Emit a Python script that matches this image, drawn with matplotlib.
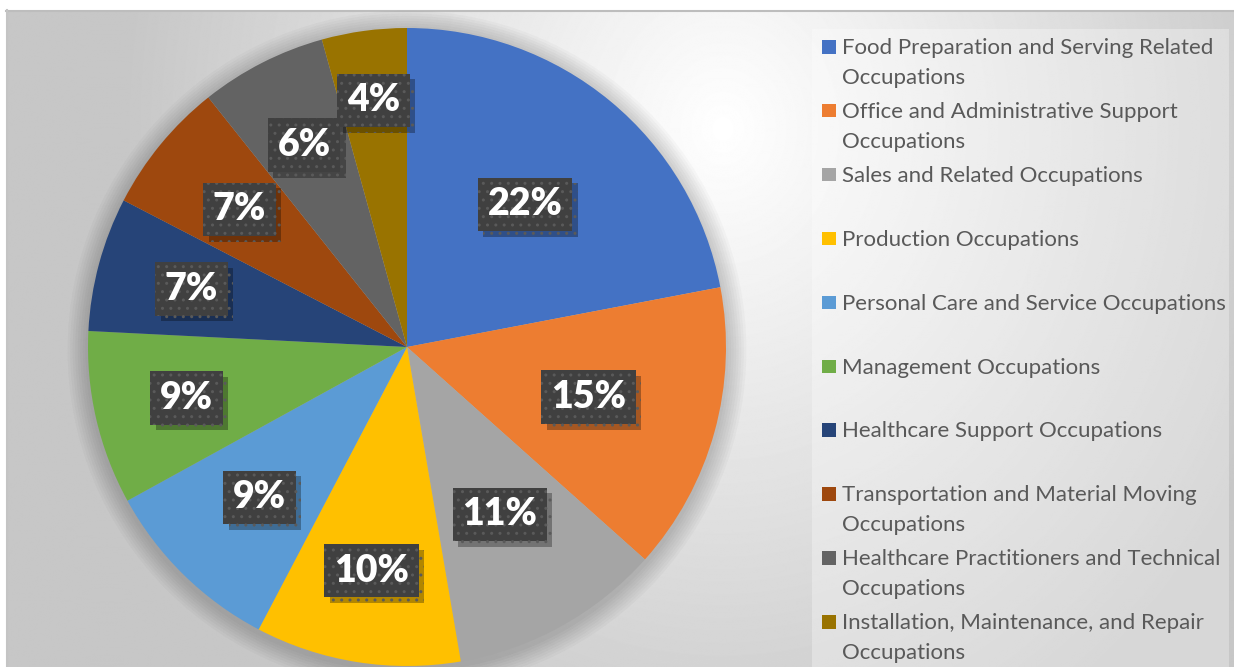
import textwrap
import numpy as np
import matplotlib
matplotlib.use("Agg")
import matplotlib.pyplot as plt
import matplotlib.patheffects as pe
from matplotlib.patches import Rectangle, Circle

# occupation shares (percent)
occupations = [
    "Food Preparation and Serving Related Occupations",
    "Office and Administrative Support Occupations",
    "Sales and Related Occupations",
    "Production Occupations",
    "Personal Care and Service Occupations",
    "Management Occupations",
    "Healthcare Support Occupations",
    "Transportation and Material Moving Occupations",
    "Healthcare Practitioners and Technical Occupations",
    "Installation, Maintenance, and Repair Occupations",
]
shares = [22.0, 14.6, 10.7, 10.4, 9.3, 8.8, 6.8, 6.7, 6.4, 4.3]
colors = ["#4472C4", "#ED7D31", "#A5A5A5", "#FFC000", "#5B9BD5",
          "#70AD47", "#264478", "#9E480E", "#636363", "#997300"]
# radial position of each percent label (fraction of radius)
label_r = [0.58, 0.59, 0.60, 0.71, 0.66, 0.71, 0.70, 0.68, 0.71, 0.78]

W, H = 1234, 667
fig = plt.figure(figsize=(W / 100, H / 100), dpi=100)

# background with soft gradient
bg = fig.add_axes([0, 0, 1, 1])
bg.set_xlim(0, W)
bg.set_ylim(H, 0)
bg.axis("off")
yy, xx = np.mgrid[0:H, 0:W]
d = np.sqrt(((xx - 720) / 600.0) ** 2 + ((yy - 120) / 700.0) ** 2)
shade = 1.0 - 0.22 * np.clip(d, 0, 1)
bg.imshow(shade, cmap="gray", vmin=0, vmax=1, extent=(6, W, H, 10),
          aspect="auto", zorder=0)
bg.plot([6, W], [10.5, 10.5], color="#bdbdbd", lw=1.5, zorder=1)
bg.plot([6.5, 6.5], [10, H], color="#c4c4c4", lw=1.5, zorder=1)
# legend panel
bg.add_patch(Rectangle((812, 29), W - 5 - 812, H - 29, facecolor="white",
                       alpha=0.3, edgecolor="none", zorder=1))

# pie
cx, cy, R = 407, 347, 319
ax = fig.add_axes([(cx - R) / W, (H - cy - R) / H, 2 * R / W, 2 * R / H])
wedges, _ = ax.pie(shares, colors=colors, startangle=90, counterclock=False,
                   radius=1.0, wedgeprops=dict(linewidth=0))
ax.set_xlim(-1, 1)
ax.set_ylim(-1, 1)
ax.axis("off")
for k in range(8):
    ax.add_patch(Circle((0.0, -0.01), 1.0 + 0.008 * (k + 1), color="black",
                        alpha=0.025, lw=0, zorder=0, clip_on=False))
for w in wedges:
    w.set_zorder(2)
    w.set_clip_on(False)

for w, v, r in zip(wedges, shares, label_r):
    ang = np.deg2rad((w.theta1 + w.theta2) / 2.0)
    t = ax.text(r * np.cos(ang), r * np.sin(ang), "%d%%" % round(v),
                ha="center", va="center", color="white", fontsize=27,
                fontweight="heavy", family=["Lato", "DejaVu Sans"], zorder=5,
                bbox=dict(boxstyle="square,pad=0.26", facecolor="#404040",
                          edgecolor="#5a5a5a", linewidth=0, hatch=".."))
    t.get_bbox_patch().set_path_effects(
        [pe.SimplePatchShadow(offset=(4, -4), shadow_rgbFace="black", alpha=0.3),
         pe.Normal()])

# legend drawn by hand to keep Excel's even row spacing
for i, (name, c) in enumerate(zip(occupations, colors)):
    y0 = 46 + i * 63.9
    bg.add_patch(Rectangle((822, y0 - 6), 14, 13.5, facecolor=c,
                           edgecolor="none", zorder=3))
    bg.text(842, y0 - 8, textwrap.fill(name, 38), ha="left", va="top",
            fontsize=16, color="#595959", family=["Lato", "DejaVu Sans"],
            linespacing=1.6, zorder=3)

fig.savefig("out.png", dpi=100)
